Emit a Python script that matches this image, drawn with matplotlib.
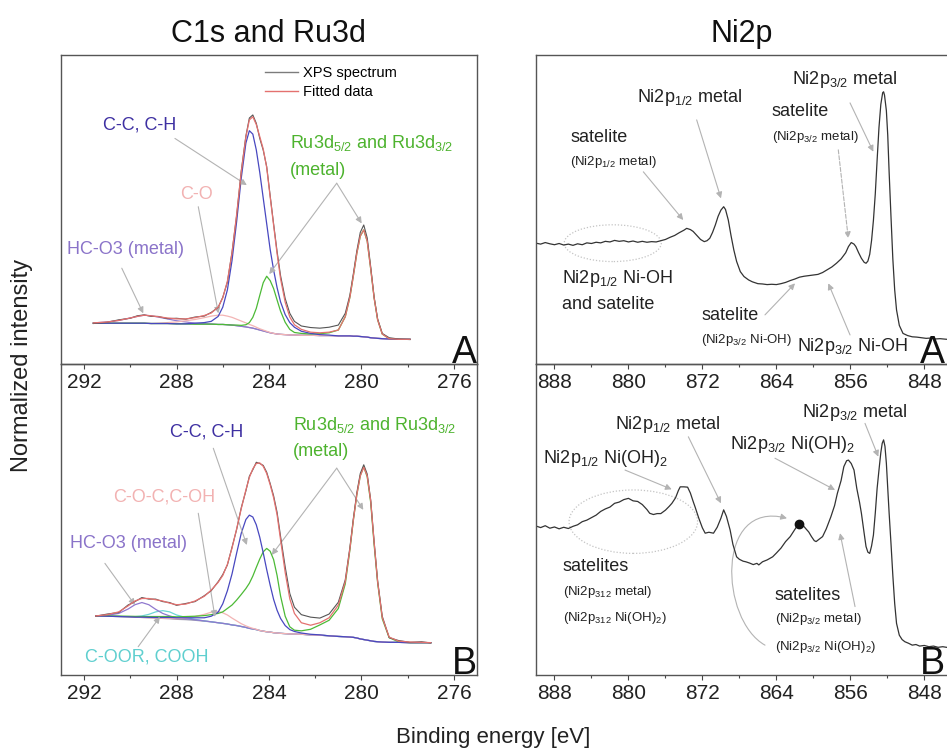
import numpy as np
import matplotlib
matplotlib.use("Agg")
import matplotlib.pyplot as plt
from matplotlib.ticker import MultipleLocator
from matplotlib.patches import Ellipse, FancyArrowPatch
from matplotlib.path import Path
from matplotlib.lines import Line2D

plt.rcParams["font.family"] = ["Liberation Sans", "DejaVu Sans"]
plt.rcParams["mathtext.fontset"] = "custom"
plt.rcParams["mathtext.rm"] = "Liberation Sans"
plt.rcParams["mathtext.it"] = "Liberation Sans:italic"
plt.rcParams["mathtext.bf"] = "Liberation Sans:bold"
plt.rcParams["mathtext.default"] = "regular"

# ---------------- C1s / Ru3d, sample A ----------------
c1s_a_energy = [291.6, 291.0, 290.5, 290.0, 289.7, 289.4, 289.1, 288.8, 288.4, 288.0,
                287.6, 287.2, 286.8, 286.5, 286.2, 286.0, 285.8, 285.6, 285.4, 285.2,
                285.0, 284.85, 284.7, 284.55, 284.4, 284.25, 284.1, 283.95, 283.8, 283.65,
                283.5, 283.3, 283.1, 282.9, 282.6, 282.2, 281.8, 281.4, 281.0, 280.7,
                280.5, 280.35, 280.2, 280.05, 279.9, 279.75, 279.6, 279.45, 279.3, 279.1,
                278.8, 278.4, 277.9]
c1s_a_spectrum = [13.1, 13.5, 14.3, 14.8, 15.6, 15.9, 15.4, 15.4, 14.7, 14.8,
                  14.5, 15.2, 15.5, 16.7, 18.3, 21.6, 26.5, 36.2, 48.0, 62.5,
                  73.8, 79.6, 80.6, 77.9, 73.0, 69.2, 63.9, 54.5, 45.3, 36.4,
                  28.6, 21.2, 16.4, 13.8, 12.3, 11.8, 11.6, 11.9, 12.6, 16.4,
                  22.3, 29.2, 36.6, 42.6, 45.0, 40.8, 31.5, 21.6, 14.6, 9.9,
                  8.5, 8.1, 7.9]
c1s_a_fit = [13.3, 13.6, 14.1, 14.9, 15.4, 15.8, 15.6, 15.3, 14.9, 14.6,
             14.6, 15.0, 15.7, 16.5, 18.4, 21.4, 26.8, 36.0, 48.4, 62.2,
             73.5, 79.0, 80.0, 77.5, 73.6, 69.6, 63.6, 54.1, 44.9, 35.7,
             27.6, 20.0, 15.2, 12.7, 11.2, 10.3, 10.1, 10.3, 11.0, 15.3,
             21.6, 28.5, 35.8, 41.4, 43.4, 39.7, 30.8, 21.3, 14.3, 9.7,
             8.2, 8.0, 8.0]
c1s_a_background = [13.2, 13.2, 13.2, 13.2, 13.2, 13.2, 13.1, 13.1, 13.1, 13.0,
                    13.0, 12.9, 12.9, 12.9, 12.8, 12.8, 12.7, 12.6, 12.4, 12.2,
                    12.0, 11.8, 11.6, 11.3, 11.0, 10.7, 10.4, 10.1, 9.9, 9.7,
                    9.6, 9.5, 9.4, 9.4, 9.3, 9.3, 9.2, 9.2, 9.1, 9.1,
                    9.1, 9.0, 9.0, 8.9, 8.8, 8.7, 8.5, 8.4, 8.3, 8.2,
                    8.1, 8.0, 8.0]
# fitted components, height above the background
c1s_a_hco3 = [0.1, 0.4, 0.9, 1.7, 2.2, 2.6, 2.5, 2.1, 1.5, 1.0,
              0.6, 0.3, 0.15, 0.05, 0, 0, 0, 0, 0, 0,
              0, 0, 0, 0, 0, 0, 0, 0, 0, 0,
              0, 0, 0, 0, 0, 0, 0, 0, 0, 0,
              0, 0, 0, 0, 0, 0, 0, 0, 0, 0,
              0, 0, 0]
c1s_a_co = [0, 0, 0, 0, 0, 0, 0, 0.1, 0.3, 0.6,
            1.0, 1.5, 2.1, 2.6, 3.0, 3.0, 2.8, 2.5, 2.1, 1.7,
            1.3, 1.0, 0.8, 0.6, 0.4, 0.3, 0.2, 0.1, 0, 0,
            0, 0, 0, 0, 0, 0, 0, 0, 0, 0,
            0, 0, 0, 0, 0, 0, 0, 0, 0, 0,
            0, 0, 0]
c1s_a_cc = [0, 0, 0, 0, 0, 0, 0, 0, 0, 0,
            0, 0.3, 0.5, 0.9, 2.6, 5.6, 11.3, 20.9, 33.7, 48.0,
            59.5, 63.7, 62.8, 58.0, 51.0, 43.0, 35.0, 27.0, 20.5, 15.0,
            10.5, 6.5, 4.0, 2.5, 1.3, 0.6, 0.3, 0.15, 0, 0,
            0, 0, 0, 0, 0, 0, 0, 0, 0, 0,
            0, 0, 0]
c1s_a_ru = [0, 0, 0, 0, 0, 0, 0, 0, 0, 0,
            0, 0, 0, 0, 0, 0, 0, 0, 0.2, 0.3,
            0.7, 1.6, 3.5, 6.7, 11.2, 15.6, 18.0, 16.9, 14.5, 11.0,
            7.5, 4.0, 1.8, 0.8, 0.6, 0.4, 0.6, 0.9, 1.9, 6.2,
            12.5, 19.5, 26.8, 32.5, 34.6, 31.0, 22.3, 12.9, 6.0, 1.5,
            0.1, 0.0, 0.0]

# ---------------- C1s / Ru3d, sample B ----------------
c1s_b_energy = [291.5, 291.0, 290.5, 290.1, 289.8, 289.5, 289.2, 288.9, 288.6, 288.3,
                288.0, 287.6, 287.2, 286.8, 286.5, 286.2, 286.0, 285.8, 285.6, 285.4,
                285.2, 285.0, 284.85, 284.7, 284.55, 284.4, 284.25, 284.1, 283.95, 283.8,
                283.65, 283.5, 283.3, 283.1, 282.9, 282.6, 282.2, 281.8, 281.4, 281.0,
                280.7, 280.5, 280.35, 280.2, 280.05, 279.9, 279.75, 279.6, 279.45, 279.3,
                279.1, 278.8, 278.4, 277.9, 277.4, 277.0]
c1s_b_spectrum = [18.9, 19.6, 20.1, 22.5, 23.6, 24.9, 24.4, 24.4, 23.6, 23.3,
                  22.4, 23.0, 23.6, 25.5, 27.1, 30.0, 32.3, 35.4, 41.1, 46.8,
                  53.8, 59.2, 63.9, 66.0, 68.4, 68.0, 67.4, 65.2, 61.6, 57.6,
                  52.3, 44.6, 34.8, 26.2, 21.8, 19.4, 18.6, 18.3, 19.6, 23.4,
                  30.6, 41.0, 50.3, 58.6, 64.8, 67.6, 64.6, 56.3, 42.8, 30.3,
                  18.9, 12.0, 11.1, 10.5, 10.7, 10.3]
c1s_b_fit = [19.0, 19.4, 20.3, 22.2, 23.8, 24.6, 24.6, 24.2, 23.8, 23.1,
             22.6, 22.8, 23.8, 25.3, 27.3, 29.8, 32.0, 35.6, 40.8, 47.0,
             53.5, 59.5, 63.5, 66.3, 68.0, 68.2, 67.1, 64.8, 61.2, 57.0,
             51.5, 43.5, 33.0, 24.5, 19.8, 16.8, 16.0, 16.8, 18.4, 22.5,
             30.0, 40.5, 49.8, 58.0, 64.0, 66.8, 64.0, 56.0, 42.5, 30.0,
             18.5, 12.2, 10.9, 10.6, 10.5, 10.4]
c1s_b_background = [19.0, 18.9, 18.8, 18.7, 18.6, 18.5, 18.4, 18.3, 18.2, 18.1,
                    17.9, 17.8, 17.6, 17.3, 17.1, 16.8, 16.6, 16.4, 16.1, 15.9,
                    15.6, 15.3, 15.0, 14.8, 14.6, 14.3, 14.1, 13.9, 13.8, 13.6,
                    13.5, 13.4, 13.3, 13.2, 13.2, 13.1, 12.9, 12.8, 12.6, 12.4,
                    12.3, 12.2, 12.1, 11.9, 11.6, 11.4, 11.2, 11.0, 10.8, 10.7,
                    10.6, 10.5, 10.5, 10.4, 10.4, 10.4]
c1s_b_hco3 = [0.05, 0.3, 1.0, 2.5, 4.0, 4.8, 4.2, 2.8, 1.6, 0.9,
              0.5, 0.3, 0.15, 0.1, 0, 0, 0, 0, 0, 0,
              0, 0, 0, 0, 0, 0, 0, 0, 0, 0,
              0, 0, 0, 0, 0, 0, 0, 0, 0, 0,
              0, 0, 0, 0, 0, 0, 0, 0, 0, 0,
              0, 0, 0, 0, 0, 0]
c1s_b_cooh = [0, 0, 0, 0.05, 0.15, 0.5, 1.1, 2.0, 2.5, 2.2,
              1.4, 0.7, 0.3, 0.1, 0, 0, 0, 0, 0, 0,
              0, 0, 0, 0, 0, 0, 0, 0, 0, 0,
              0, 0, 0, 0, 0, 0, 0, 0, 0, 0,
              0, 0, 0, 0, 0, 0, 0, 0, 0, 0,
              0, 0, 0, 0, 0, 0]
c1s_b_coc = [0, 0, 0, 0, 0, 0, 0, 0, 0, 0.1,
             0.2, 0.5, 1.2, 2.2, 3.1, 3.6, 3.4, 2.9, 2.2, 1.5,
             0.9, 0.5, 0.35, 0.2, 0.1, 0, 0, 0, 0, 0,
             0, 0, 0, 0, 0, 0, 0, 0, 0, 0,
             0, 0, 0, 0, 0, 0, 0, 0, 0, 0,
             0, 0, 0, 0, 0, 0]
c1s_b_cc = [0, 0, 0, 0, 0, 0.1, 0.15, 0.2, 0.3, 0.4,
            0.5, 0.6, 0.8, 1.1, 1.8, 3.4, 6.3, 10.7, 16.4, 23.3,
            30.0, 34.7, 36.4, 36.0, 33.7, 30.0, 25.2, 20.0, 15.1, 10.7,
            7.3, 4.8, 2.6, 1.4, 0.8, 0.4, 0.2, 0.1, 0, 0,
            0, 0, 0, 0, 0, 0, 0, 0, 0, 0,
            0, 0, 0, 0, 0, 0]
c1s_b_ru = [0.05, 0.1, 0.15, 0.2, 0.25, 0.3, 0.4, 0.5, 0.6, 0.7,
            0.8, 1.0, 1.3, 1.8, 2.3, 3.0, 3.7, 5.0, 6.4, 8.2,
            10.3, 12.5, 14.5, 17.0, 20.0, 23.0, 25.5, 26.8, 26.0, 23.5,
            18.5, 12.0, 5.6, 2.3, 1.2, 1.1, 1.8, 3.3, 5.0, 9.0,
            17.0, 28.0, 37.7, 46.0, 52.5, 55.6, 52.5, 44.5, 31.0, 19.0,
            7.5, 1.5, 0.2, 0.0, 0.0, 0.0]

# ---------------- Ni2p spectra (binding energy, intensity) ----------------
ni2p_a = [(890.0, 39.1), (889.5, 38.8), (889.0, 39.3), (888.5, 38.9), (888.0, 38.6),
          (887.5, 39.0), (887.0, 38.5), (886.5, 38.8), (886.0, 38.4), (885.5, 38.9),
          (885.0, 38.6), (884.5, 39.2), (884.0, 39.0), (883.5, 39.4), (883.0, 39.2),
          (882.5, 39.7), (882.0, 39.5), (881.5, 40.0), (881.0, 39.7), (880.5, 39.9),
          (880.0, 39.5), (879.5, 39.8), (879.0, 39.4), (878.5, 39.7), (878.0, 39.4),
          (877.5, 39.6), (877.0, 39.5), (876.5, 39.9), (876.0, 40.3), (875.5, 41.0),
          (875.0, 41.6), (874.5, 42.5), (874.0, 43.3), (873.7, 43.9), (873.3, 43.5),
          (873.0, 42.9), (872.6, 41.6), (872.2, 40.3), (871.8, 39.6), (871.5, 39.9),
          (871.2, 40.7), (870.9, 42.6), (870.6, 45.0), (870.3, 47.8), (870.0, 49.8),
          (869.7, 50.9), (869.5, 50.0), (869.2, 46.6), (868.9, 41.5), (868.6, 36.9),
          (868.3, 33.2), (867.9, 29.9), (867.5, 28.3), (867.0, 27.2), (866.6, 26.6),
          (866.0, 26.0), (865.5, 25.9), (865.0, 25.7), (864.5, 25.8), (864.0, 25.7),
          (863.5, 26.0), (863.0, 26.4), (862.5, 27.0), (862.0, 27.5), (861.5, 28.1),
          (861.0, 28.4), (860.5, 28.6), (860.0, 28.8), (859.5, 29.0), (859.0, 29.6),
          (858.5, 30.5), (858.0, 31.4), (857.5, 32.6), (857.0, 34.0), (856.5, 36.0),
          (856.2, 38.0), (855.9, 39.3), (855.6, 38.8), (855.4, 38.0), (855.1, 36.0),
          (854.8, 34.2), (854.5, 32.9), (854.3, 32.6), (854.1, 33.3), (853.9, 35.5),
          (853.7, 40.0), (853.5, 46.5), (853.3, 55.0), (853.1, 66.0), (852.9, 76.5),
          (852.7, 84.0), (852.5, 87.8), (852.4, 88.1), (852.3, 87.0), (852.1, 82.0),
          (851.95, 74.0), (851.8, 62.0), (851.6, 47.7), (851.4, 34.0), (851.2, 24.0),
          (851.0, 17.5), (850.7, 12.5), (850.3, 9.9), (849.8, 9.2), (849.3, 8.8),
          (848.8, 8.7), (848.3, 8.5), (847.8, 8.3), (847.3, 8.4), (846.8, 8.1),
          (846.3, 8.2), (845.6, 8.0), (845.0, 8.0)]

ni2p_b = [(890.0, 47.9), (889.5, 47.4), (889.0, 48.0), (888.5, 47.2), (888.0, 47.6),
          (887.5, 47.0), (887.0, 47.5), (886.5, 47.1), (886.0, 47.8), (885.5, 48.3),
          (885.0, 49.3), (884.5, 49.8), (884.0, 50.6), (883.5, 51.4), (883.0, 52.6),
          (882.5, 53.4), (882.0, 54.0), (881.5, 55.2), (881.0, 55.6), (880.5, 56.4),
          (880.0, 56.8), (879.5, 56.0), (879.0, 55.8), (878.5, 54.8), (878.0, 53.2),
          (877.7, 52.0), (877.3, 51.6), (876.9, 51.9), (876.5, 51.9), (876.0, 53.0),
          (875.6, 54.2), (875.3, 55.2), (874.9, 57.0), (874.6, 59.3), (874.4, 60.5),
          (874.0, 60.5), (873.6, 60.4), (873.3, 58.5), (873.0, 55.8), (872.8, 54.1),
          (872.4, 50.5), (872.0, 47.3), (871.7, 45.6), (871.3, 45.9), (870.8, 45.6),
          (870.4, 47.5), (870.0, 50.4), (869.7, 53.1), (869.4, 51.0), (869.0, 46.6),
          (868.7, 42.0), (868.3, 38.0), (868.0, 37.2), (867.6, 36.6), (867.3, 36.4),
          (866.9, 36.0), (866.5, 35.5), (866.1, 35.9), (865.9, 35.4), (865.5, 36.4),
          (865.0, 37.0), (864.4, 38.0), (864.0, 39.2), (863.5, 40.8), (863.0, 42.9),
          (862.5, 44.5), (862.0, 46.8), (861.6, 48.6), (861.2, 48.4), (860.8, 47.0),
          (860.5, 46.0), (860.2, 44.5), (859.9, 43.2), (859.7, 42.9), (859.4, 43.6),
          (859.0, 44.5), (858.6, 47.0), (858.1, 50.9), (857.7, 54.5), (857.4, 58.4),
          (857.0, 62.5), (856.7, 67.0), (856.4, 68.9), (856.2, 69.1), (855.9, 68.0),
          (855.6, 65.9), (855.3, 60.0), (855.0, 55.5), (854.8, 52.0), (854.5, 45.5),
          (854.3, 41.3), (854.1, 39.5), (853.9, 39.1), (853.7, 41.5), (853.5, 45.0),
          (853.3, 52.0), (853.1, 60.0), (852.9, 65.9), (852.7, 71.5), (852.55, 74.5),
          (852.4, 75.6), (852.25, 73.5), (852.1, 68.1), (851.95, 60.0), (851.8, 52.0),
          (851.6, 42.3), (851.4, 32.0), (851.2, 23.0), (851.0, 16.6), (850.7, 12.8),
          (850.4, 11.4), (850.1, 10.7), (849.7, 10.2), (849.3, 9.6), (848.9, 9.8),
          (848.5, 9.3), (848.0, 9.5), (847.5, 9.1), (847.0, 9.3), (846.5, 8.9),
          (846.0, 9.1), (845.6, 8.9), (845.0, 8.9)]
ni2p_b_marker = [(861.6, 48.6)]

# ---------------- colours ----------------
COL_SPEC = "#555555"
COL_FIT = "#e4716f"
COL_BG = "#9a9aae"
COL_CC = "#4848c0"
COL_RU = "#4cba36"
COL_CO = "#f3b4b4"
COL_HCO3 = "#8f78cf"
COL_COOH = "#6dd5d5"
TXT_CC = "#3e30a2"
TXT_RU = "#4db32e"
TXT_CO = "#f2b2b2"
TXT_HCO3 = "#8a73c9"
TXT_COOH = "#5fcfcf"
COL_ARROW = "#b3b3b3"
COL_TEXT = "#222222"

# ---------------- figure and axes ----------------
W, H = 947, 751
fig = plt.figure(figsize=(W / 100, H / 100), dpi=100)


def box(left, top, right, bottom):
    return [left / W, 1 - bottom / H, (right - left) / W, (bottom - top) / H]


ax_tl = fig.add_axes(box(61, 55, 477, 364))
ax_bl = fig.add_axes(box(61, 364, 477, 675))
ax_tr = fig.add_axes(box(536, 55, 952, 364))
ax_br = fig.add_axes(box(536, 364, 952, 675))


def style(ax, xlim, major, minor, letter, letter_x=1.0):
    ax.set_facecolor("none")
    ax.set_xlim(*xlim)
    ax.set_ylim(0, 100)
    ax.set_yticks([])
    ax.xaxis.set_major_locator(MultipleLocator(major))
    ax.xaxis.set_minor_locator(MultipleLocator(minor))
    ax.tick_params(axis="x", which="major", direction="out", length=3.8, width=0.8,
                   color="#444444", labelsize=15, labelcolor=COL_TEXT, pad=2.5)
    ax.tick_params(axis="x", which="minor", direction="out", length=2.0, width=0.8,
                   color="#444444")
    for sp in ax.spines.values():
        sp.set_color("#555555")
        sp.set_linewidth(1.0)
    ax.text(letter_x, 0.004, letter, transform=ax.transAxes, ha="right", va="baseline",
            fontsize=27, color="#111111")


# the right-hand panels run past the figure edge; keep their panel letters inside it
style(ax_tl, (293, 275), 4, 2, "A")
style(ax_bl, (293, 275), 4, 2, "B")
style(ax_tr, (890, 845), 8, 4, "A", letter_x=0.984)
style(ax_br, (890, 845), 8, 4, "B", letter_x=0.984)


def note(ax, text, x, y, color=COL_TEXT, size=13):
    ax.text(x, y, text, color=color, fontsize=size, ha="left", va="center")


def arrow(ax, start, end, ls="-"):
    ax.annotate("", xy=end, xytext=start,
                arrowprops=dict(arrowstyle="-|>", color=COL_ARROW, lw=0.8, ls=ls,
                                mutation_scale=9, shrinkA=0, shrinkB=0))


def draw_c1s(ax, energy, spectrum, fit, background, components):
    e = np.array(energy)
    bg = np.array(background)
    ax.plot(e, bg, color=COL_BG, lw=0.9, zorder=2)
    for values, color in components:
        ax.plot(e, bg + np.array(values), color=color, lw=0.9, zorder=3)
    ax.plot(e, spectrum, color=COL_SPEC, lw=0.8, zorder=4)
    ax.plot(e, fit, color=COL_FIT, lw=0.9, zorder=5)


# ---- C1s, A ----
draw_c1s(ax_tl, c1s_a_energy, c1s_a_spectrum, c1s_a_fit, c1s_a_background,
         [(c1s_a_hco3, COL_HCO3), (c1s_a_co, COL_CO), (c1s_a_ru, COL_RU),
          (c1s_a_cc, COL_CC)])
handles = [Line2D([], [], color="#7c7c7c", lw=1.0), Line2D([], [], color=COL_FIT, lw=1.0)]
ax_tl.legend(handles, ["XPS spectrum", "Fitted data"], loc="upper left",
             bbox_to_anchor=(0.49, 0.965), frameon=False, fontsize=10.5,
             handlelength=2.3, handletextpad=0.35, labelspacing=0.35,
             borderpad=0, borderaxespad=0)
note(ax_tl, "C-C, C-H", 291.18, 77.3, TXT_CC)
note(ax_tl, r"Ru3d$_{5/2}$ and Ru3d$_{3/2}$", 283.09, 71.4, TXT_RU)
note(ax_tl, "(metal)", 283.09, 62.6, TXT_RU)
note(ax_tl, "C-O", 287.85, 55.0, TXT_CO)
note(ax_tl, "HC-O3 (metal)", 292.75, 37.2, TXT_HCO3)
arrow(ax_tl, (288.07, 73.0), (284.96, 57.9))
arrow(ax_tl, (281.07, 58.5), (283.99, 29.1))
arrow(ax_tl, (281.07, 58.5), (279.99, 45.5))
arrow(ax_tl, (287.06, 50.9), (286.19, 16.4))
arrow(ax_tl, (290.37, 31.0), (289.44, 16.4))

# ---- C1s, B ----
draw_c1s(ax_bl, c1s_b_energy, c1s_b_spectrum, c1s_b_fit, c1s_b_background,
         [(c1s_b_cooh, COL_COOH), (c1s_b_hco3, COL_HCO3), (c1s_b_coc, COL_CO),
          (c1s_b_ru, COL_RU), (c1s_b_cc, COL_CC)])
note(ax_bl, "C-C, C-H", 288.28, 78.2, TXT_CC)
note(ax_bl, r"Ru3d$_{5/2}$ and Ru3d$_{3/2}$", 282.95, 80.4, TXT_RU)
note(ax_bl, "(metal)", 282.95, 71.8, TXT_RU)
note(ax_bl, "C-O-C,C-OH", 290.75, 57.3, TXT_CO)
note(ax_bl, "HC-O3 (metal)", 292.61, 42.3, TXT_HCO3)
note(ax_bl, "C-OOR, COOH", 291.96, 5.9, TXT_COOH)
arrow(ax_bl, (286.41, 72.9), (284.96, 41.8))
arrow(ax_bl, (281.07, 66.5), (283.88, 38.6))
arrow(ax_bl, (281.07, 66.5), (279.92, 53.1))
arrow(ax_bl, (287.06, 52.0), (286.34, 18.7))
arrow(ax_bl, (291.10, 35.9), (289.80, 22.5))
arrow(ax_bl, (289.66, 9.1), (288.72, 18.7))

# ---- Ni2p, A ----
ea, ia = zip(*ni2p_a)
ax_tr.plot(ea, ia, color="#333333", lw=0.9)
ax_tr.add_patch(Ellipse((881.7, 39.1), 10.5, 11.9, fill=False, ec="#c4c4c4",
                        lw=0.9, ls=(0, (1, 1.5))))
note(ax_tr, r"Ni2p$_{3/2}$ metal", 862.34, 92.1)
note(ax_tr, "satelite", 864.50, 81.7)
note(ax_tr, r"(Ni2p$_{3/2}$ metal)", 864.50, 73.6, size=9.5)
note(ax_tr, r"Ni2p$_{1/2}$ metal", 879.11, 86.3)
note(ax_tr, "satelite", 886.32, 73.4)
note(ax_tr, r"(Ni2p$_{1/2}$ metal)", 886.32, 65.5, size=9.5)
note(ax_tr, r"Ni2p$_{1/2}$ Ni-OH", 887.22, 27.7)
note(ax_tr, "and satelite", 887.22, 19.1)
note(ax_tr, "satelite", 872.15, 15.6)
note(ax_tr, r"(Ni2p$_{3/2}$ Ni-OH)", 872.15, 7.8, size=9.5)
note(ax_tr, r"Ni2p$_{3/2}$ Ni-OH", 861.80, 5.6)
arrow(ax_tr, (856.03, 84.5), (853.51, 68.7))
arrow(ax_tr, (857.30, 69.3), (856.22, 40.7), ls="--")
arrow(ax_tr, (872.62, 79.0), (869.99, 53.6))
arrow(ax_tr, (878.39, 62.2), (874.07, 46.6))
arrow(ax_tr, (865.23, 15.9), (861.98, 26.1))
arrow(ax_tr, (856.03, 9.4), (858.38, 26.1))

# ---- Ni2p, B ----
eb, ib = zip(*ni2p_b)
ax_br.plot(eb, ib, color="#333333", lw=0.9)
me, mi = zip(*ni2p_b_marker)
ax_br.plot(me, mi, "o", color="#111111", ms=6)
ax_br.add_patch(Ellipse((879.47, 49.3), 13.9, 20.4, fill=False, ec="#c4c4c4",
                        lw=0.9, ls=(0, (1, 1.5))))
note(ax_br, r"Ni2p$_{3/2}$ metal", 861.26, 84.5)
note(ax_br, r"Ni2p$_{1/2}$ metal", 881.45, 80.4)
note(ax_br, r"Ni2p$_{3/2}$ Ni(OH)$_2$", 869.01, 74.0)
note(ax_br, r"Ni2p$_{1/2}$ Ni(OH)$_2$", 889.24, 69.7)
note(ax_br, "satelites", 887.08, 34.8)
note(ax_br, r"(Ni2p$_{312}$ metal)", 887.08, 26.8, size=9.5)
note(ax_br, r"(Ni2p$_{312}$ Ni(OH)$_2$)", 887.08, 18.2, size=9.5)
note(ax_br, "satelites", 864.15, 25.7)
note(ax_br, r"(Ni2p$_{3/2}$ metal)", 864.15, 17.9, size=9.5)
note(ax_br, r"(Ni2p$_{3/2}$ Ni(OH)$_2$)", 864.15, 9.1, size=9.5)
arrow(ax_br, (854.41, 80.9), (852.97, 70.2))
arrow(ax_br, (873.52, 76.6), (869.99, 55.2))
arrow(ax_br, (864.15, 69.7), (857.65, 59.5))
arrow(ax_br, (880.37, 65.9), (875.32, 59.7))
arrow(ax_br, (855.49, 22.0), (857.11, 45.6))
curve = Path([(865.23, 9.6), (870.10, 17.7), (870.64, 56.3), (862.85, 50.4)],
             [Path.MOVETO, Path.CURVE4, Path.CURVE4, Path.CURVE4])
ax_br.add_patch(FancyArrowPatch(path=curve, arrowstyle="-|>", mutation_scale=9,
                                color=COL_ARROW, lw=0.8))

# ---- titles and axis labels ----
fig.text(268.5 / W, 1 - 42 / H, "C1s and Ru3d", fontsize=22, ha="center",
         va="baseline", color="#111111")
fig.text(742 / W, 1 - 42 / H, "Ni2p", fontsize=22, ha="center", va="baseline",
         color="#111111")
fig.text(22 / W, 1 - 365 / H, "Normalized intensity", rotation=90, fontsize=17,
         ha="center", va="center", color=COL_TEXT)
fig.text(493 / W, 1 - 737 / H, "Binding energy [eV]", fontsize=16, ha="center",
         va="center", color=COL_TEXT)

fig.savefig("out.png", dpi=100)
